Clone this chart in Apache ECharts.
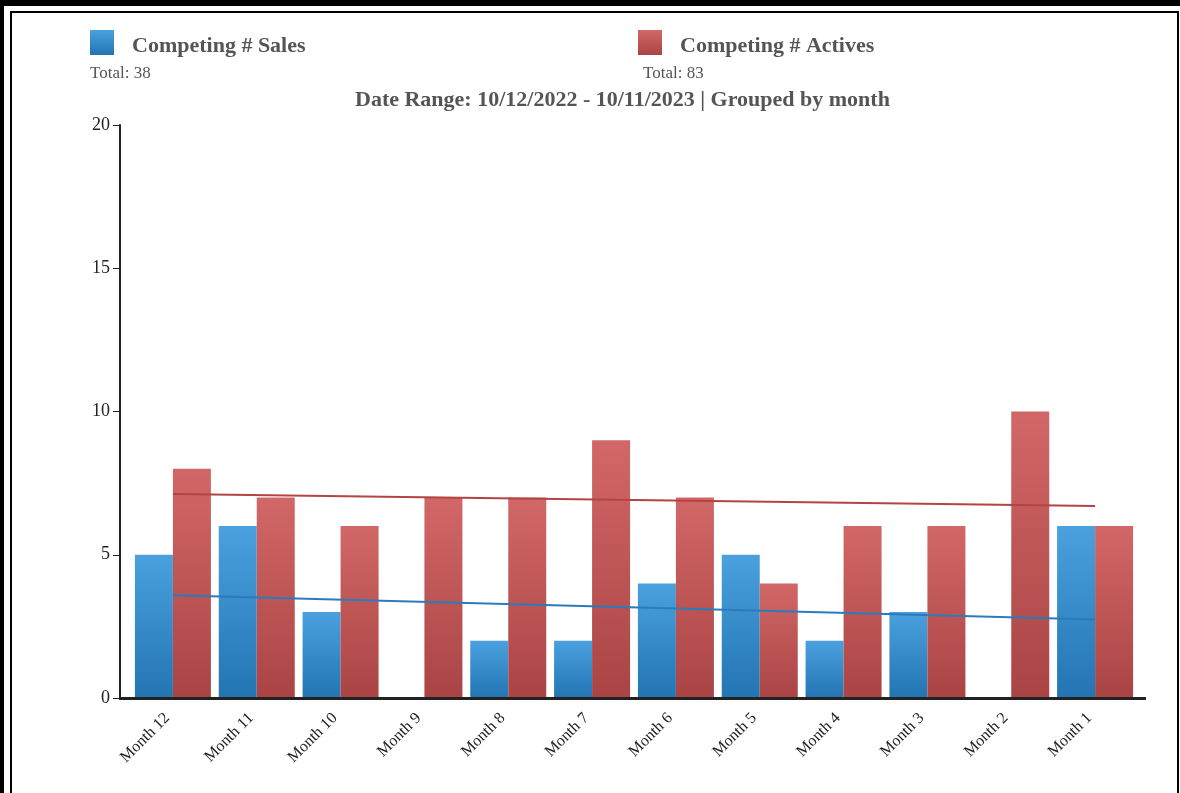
<!DOCTYPE html>
<html>
<head>
<meta charset="utf-8">
<script src="https://cdn.jsdelivr.net/npm/echarts@6/dist/echarts.min.js"></script>
<style>
  html, body { margin: 0; padding: 0; background: #fff; }
  #chart { width: 1180px; height: 793px; }
</style>
</head>
<body>
<div id="chart"></div>
<script>
var months = ['Month 12', 'Month 11', 'Month 10', 'Month 9', 'Month 8', 'Month 7',
              'Month 6', 'Month 5', 'Month 4', 'Month 3', 'Month 2', 'Month 1']
var sales = [5, 6, 3, 0, 2, 2, 4, 5, 2, 3, 0, 6]
var actives = [8, 7, 6, 7, 7, 9, 7, 4, 6, 6, 10, 6]
// trend line ends (first and last month)
var salesTrend = [3.59, 2.74]
var activesTrend = [7.12, 6.70]
var yTicks = [0, 5, 10, 15, 20]

var sum = function (a) { return a.reduce(function (s, v) { return s + v }, 0) }

var blueGrad = new echarts.graphic.LinearGradient(0, 0, 0, 1, [
  { offset: 0, color: '#4aa1de' }, { offset: 1, color: '#2374b3' }
])
var redGrad = new echarts.graphic.LinearGradient(0, 0, 0, 1, [
  { offset: 0, color: '#d26767' }, { offset: 1, color: '#aa4444' }
])
var font = '"Liberation Serif", "DejaVu Serif", serif'

var chart = echarts.init(document.getElementById('chart'))
window.addEventListener('resize', function () { chart.resize() })

var legendText = {
  fontFamily: font, fontSize: 22, fontWeight: 'bold', color: '#555', padding: [0, 0, 0, 13],
  rich: { t: { fontFamily: font, fontSize: 22, fontWeight: 'bold', color: '#555', padding: [8, 0, 0, 0] } }
}

var option = {
  animation: false,
  backgroundColor: '#fff',
  textStyle: { fontFamily: font },
  title: [
    {
      text: 'Date Range: 10/12/2022 - 10/11/2023 | Grouped by month',
      left: 355, top: 89, padding: 0,
      textStyle: { fontFamily: font, fontSize: 22, fontWeight: 'bold', color: '#555' }
    },
    {
      text: 'Total: ' + sum(sales),
      left: 90, top: 65, padding: 0,
      textStyle: { fontFamily: font, fontSize: 17, fontWeight: 'normal', color: '#555' }
    },
    {
      text: 'Total: ' + sum(actives),
      left: 643, top: 65, padding: 0,
      textStyle: { fontFamily: font, fontSize: 17, fontWeight: 'normal', color: '#555' }
    }
  ],
  legend: [
    {
      data: ['Competing # Sales'], left: 90, top: 30, padding: 0,
      icon: 'rect', itemWidth: 24, itemHeight: 25,
      selectedMode: false, formatter: '{t|{name}}',
      textStyle: legendText
    },
    {
      data: ['Competing # Actives'], left: 638, top: 30, padding: 0,
      icon: 'rect', itemWidth: 24, itemHeight: 25,
      selectedMode: false, formatter: '{t|{name}}',
      textStyle: legendText
    }
  ],
  grid: { left: 131, right: 43, top: 125, bottom: 95, containLabel: false },
  xAxis: {
    type: 'category',
    data: months,
    boundaryGap: true,
    axisLine: { lineStyle: { color: '#222', width: 3 } },
    axisTick: { alignWithLabel: true, length: 7, lineStyle: { color: '#222', width: 1 } },
    axisLabel: { rotate: 45, fontFamily: font, fontSize: 16, color: '#222', margin: 12,
                 interval: 0, padding: [0, 8, 0, 0] },
    splitLine: { show: false }
  },
  yAxis: {
    type: 'value',
    min: yTicks[0], max: yTicks[yTicks.length - 1], interval: 5,
    offset: 11,
    axisLine: { show: true, lineStyle: { color: '#222', width: 2 } },
    axisTick: { show: true, length: 7, lineStyle: { color: '#222', width: 1 } },
    axisLabel: { fontFamily: font, fontSize: 18, color: '#222', margin: 10 },
    splitLine: { show: false }
  },
  series: [
    {
      name: 'Competing # Sales', type: 'bar', data: sales,
      barWidth: 38, barGap: '0%',
      itemStyle: { color: blueGrad }
    },
    {
      name: 'Competing # Actives', type: 'bar', data: actives,
      barWidth: 38, barGap: '0%',
      itemStyle: { color: redGrad }
    },
    {
      name: 'salesTrend', type: 'line', z: 5,
      data: [[0, salesTrend[0]], [months.length - 1, salesTrend[1]]],
      symbol: 'none', lineStyle: { color: '#2b7bbb', width: 2 }
    },
    {
      name: 'activesTrend', type: 'line', z: 5,
      data: [[0, activesTrend[0]], [months.length - 1, activesTrend[1]]],
      symbol: 'none', lineStyle: { color: '#b34444', width: 2 }
    }
  ],
  graphic: [
    // page frame
    { type: 'rect', shape: { x: 0, y: 0, width: 1180, height: 6 }, style: { fill: '#000' } },
    { type: 'rect', shape: { x: 0, y: 0, width: 4, height: 793 }, style: { fill: '#000' } },
    { type: 'polyline', shape: { points: [[11, 793], [11, 12], [1178, 12], [1178, 793]] },
      style: { stroke: '#000', lineWidth: 2, fill: null } },
    // axis line runs a little past the category band on both sides
    { type: 'line', shape: { x1: 119, y1: 698.5, x2: 1146, y2: 698.5 },
      style: { stroke: '#222', lineWidth: 3 }, z: 10 }
  ]
}
chart.setOption(option)
</script>
</body>
</html>
